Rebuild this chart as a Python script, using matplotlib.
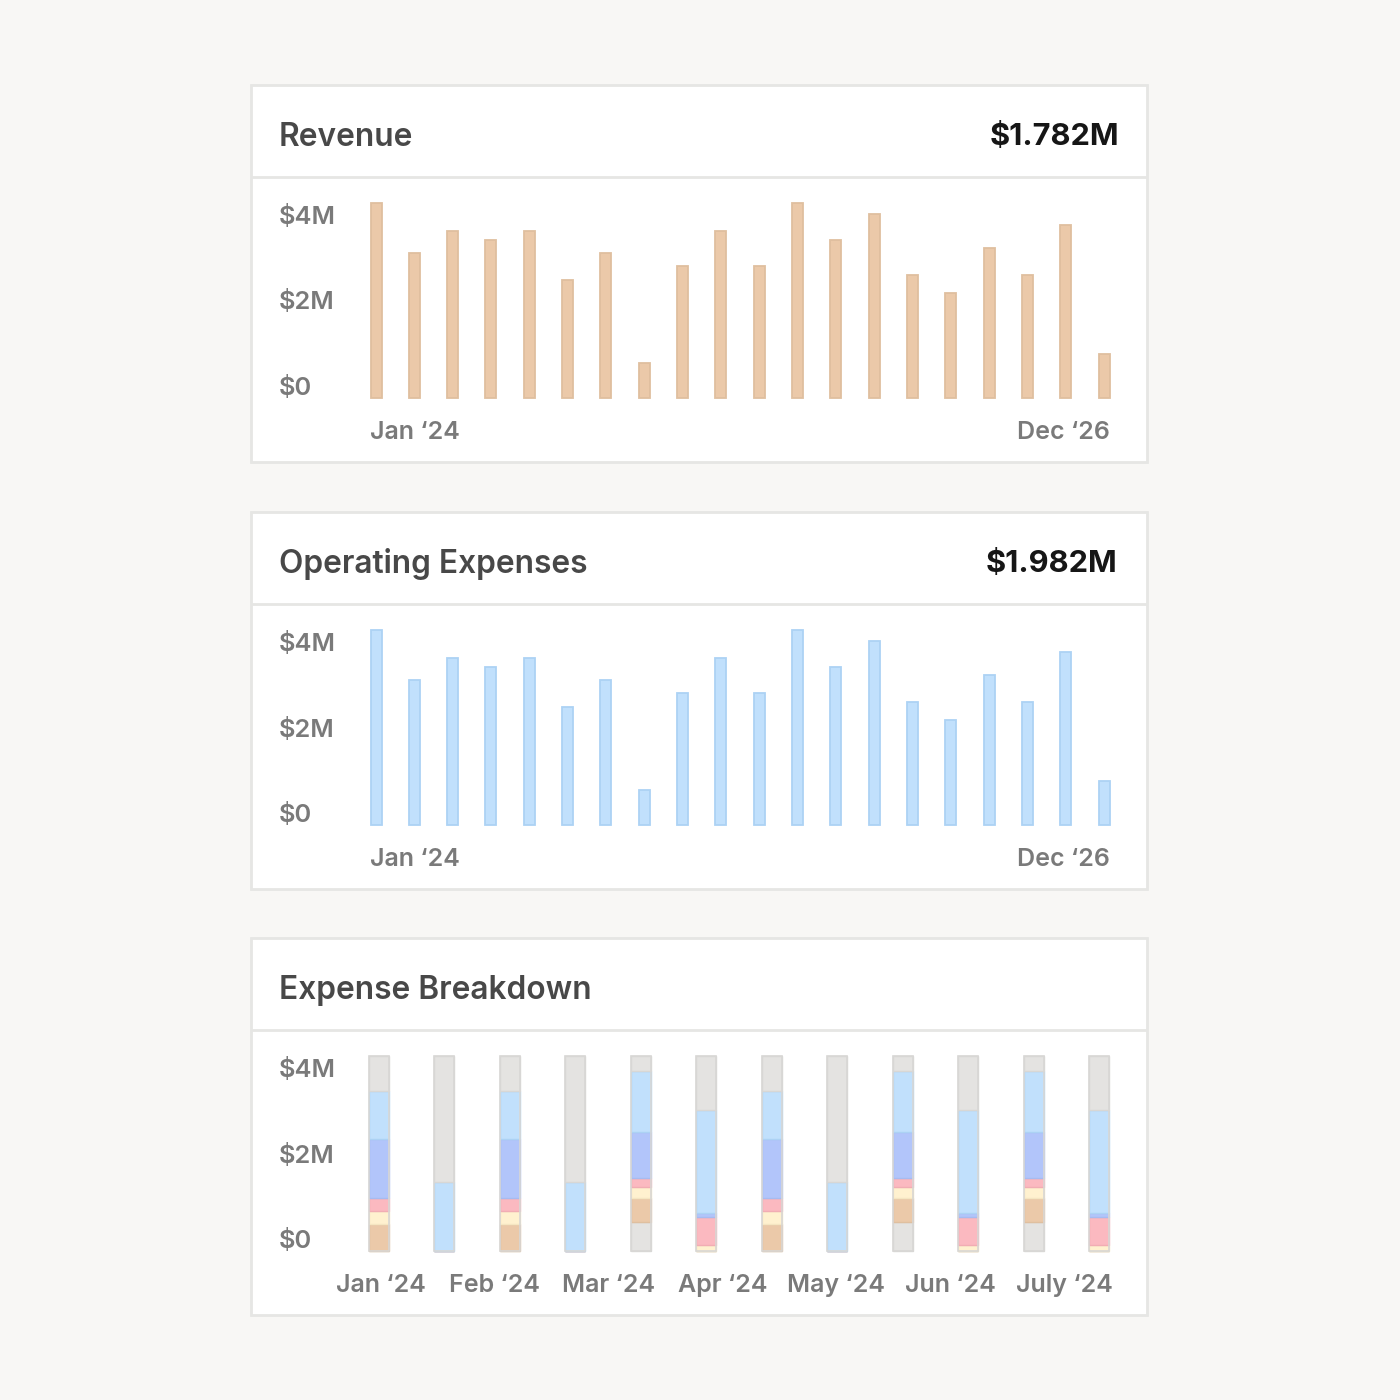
import matplotlib
matplotlib.use("Agg")
import matplotlib.pyplot as plt
from matplotlib.patches import Rectangle
from matplotlib.transforms import ScaledTranslation
import numpy as np

plt.rcParams['font.family'] = ['Inter', 'DejaVu Sans']

# ---------------- data ----------------
revenue_m = [4.00, 2.97, 3.43, 3.24, 3.43, 2.42, 2.97, 0.72, 2.71, 3.43,
             2.71, 4.00, 3.24, 3.77, 2.52, 2.15, 3.08, 2.52, 3.55, 0.90]
opex_m = [4.00, 2.97, 3.43, 3.24, 3.43, 2.42, 2.97, 0.72, 2.71, 3.43,
          2.71, 4.00, 3.24, 3.77, 2.52, 2.15, 3.08, 2.52, 3.55, 0.90]
trend_ticks = ["Jan \u201824", "Dec \u201826"]
y_tick_vals = [0, 2, 4]
y_tick_labels = ["$0", "$2M", "$4M"]

revenue_title = "Revenue"
revenue_total = "$1.782M"
opex_title = "Operating Expenses"
opex_total = "$1.982M"
breakdown_title = "Expense Breakdown"

months = ["Jan \u201824", "Feb \u201824", "Mar \u201824", "Apr \u201824",
          "May \u201824", "Jun \u201824", "July \u201824"]
# stacked expense series (millions), bottom -> top, one value per bar (12 bars)
other_low = [0, 0, 0, 0, 0.60, 0, 0, 0, 0.60, 0, 0.60, 0]
facilities = [0.55, 0, 0.55, 0, 0.49, 0, 0.55, 0, 0.49, 0, 0.49, 0]
software = [0.27, 0, 0.27, 0, 0.23, 0.12, 0.27, 0, 0.23, 0.12, 0.23, 0.12]
marketing = [0.27, 0, 0.27, 0, 0.18, 0.57, 0.27, 0, 0.18, 0.57, 0.18, 0.57]
contractors = [1.20, 0, 1.20, 0, 0.94, 0.09, 1.20, 0, 0.94, 0.09, 0.94, 0.09]
payroll = [0.99, 1.41, 0.99, 1.41, 1.26, 2.11, 0.99, 1.41, 1.26, 2.11, 1.26, 2.11]
other_high = [0.72, 2.59, 0.72, 2.59, 0.30, 1.11, 0.72, 2.59, 0.30, 1.11, 0.30, 1.11]

# ---------------- style ----------------
BG = "#f8f7f5"
CARD_EDGE = "#e6e6e4"
TITLE_C = "#484848"
VALUE_C = "#161616"
TICK_C = "#7a7a7a"
TAN = ("#ebc9a9", "#dfbf9f")
BLUE = ("#c1e0fc", "#acd2f4")
PERI = ("#b2c5fa", "#a7bbf0")
PINK = ("#fbb9c0", "#f1adb4")
CREAM = ("#fff1cf", "#f5e6c2")
GRAY = ("#e4e3e1", "#d8d7d5")

W = H = 1400
fig = plt.figure(figsize=(14, 14), dpi=100)
fig.patch.set_facecolor(BG)


def fx(px):
    return px / W


def fy(py):
    return 1 - py / H


def card(top, bottom, divider):
    fig.patches.append(Rectangle((fx(251), fy(bottom)), fx(1147 - 251), (bottom - top) / H,
                                 transform=fig.transFigure, facecolor="white",
                                 edgecolor=CARD_EDGE, linewidth=2, zorder=-10))
    fig.add_artist(plt.Line2D([fx(252), fx(1146)], [fy(divider), fy(divider)],
                              transform=fig.transFigure, color=CARD_EDGE, linewidth=2, zorder=-9))


def header(ycenter, title, value=None, vright=1119):
    fig.text(fx(279), fy(ycenter), title, fontsize=22.8, fontweight="semibold",
             color=TITLE_C, ha="left", va="center_baseline")
    if value:
        fig.text(fx(vright), fy(ycenter), value, fontsize=22.2, fontweight="bold",
                 color=VALUE_C, ha="right", va="center_baseline")


def make_axes(top_px, base_px, left_px, right_px, x0_px, step_px):
    ax = fig.add_axes([fx(left_px), fy(base_px), (right_px - left_px) / W, (base_px - top_px) / H])
    ax.patch.set_visible(False)
    for s in ax.spines.values():
        s.set_visible(False)
    ax.set_xlim((left_px - x0_px) / step_px, (right_px - x0_px) / step_px)
    ax.set_ylim(0, 4)
    ax.set_yticks(y_tick_vals)
    ax.set_yticklabels(y_tick_labels)
    ax.tick_params(axis="y", length=0, pad=(left_px - 279) * 0.72, labelsize=18.3,
                   labelcolor=TICK_C)
    down = ScaledTranslation(0, -2 / 100, fig.dpi_scale_trans)
    for t in ax.get_yticklabels():
        t.set_ha("left")
        t.set_fontweight("semibold")
        t.set_transform(t.get_transform() + down)
    labs = ax.get_yticklabels()
    labs[0].set_va("bottom")
    labs[1].set_va("center")
    labs[2].set_va("top")
    return ax


def trend_panel(top, values, color, title, total, total_right):
    card(top, top + 377, top + 92)
    header(top + 49, title, total, total_right)
    step = 38.32
    width = 11 / step
    ax = make_axes(top + 118, top + 313, 340, 1140, 376, step)
    x = np.arange(len(values))
    ax.bar(x, values, width=width, color=color[0], edgecolor=color[1], linewidth=1.3,
           clip_on=False)
    ax.set_xticks([x[0] - width / 2, x[-1] + width / 2])
    ax.set_xticklabels(trend_ticks)
    ax.tick_params(axis="x", length=0, pad=16.5, labelsize=18.0, labelcolor=TICK_C)
    xl = ax.get_xticklabels()
    xl[0].set_ha("left")
    xl[1].set_ha("right")
    for t in xl:
        t.set_fontweight("semibold")


trend_panel(85, revenue_m, TAN, revenue_title, revenue_total, 1119)
trend_panel(512, opex_m, BLUE, opex_title, opex_total, 1117)

# ---------- breakdown ----------
top = 938
card(top, top + 377, top + 92)
header(top + 49, breakdown_title)
step = 65.45
ax = make_axes(top + 118, top + 313, 340, 1140, 379, step)
series = [(other_low, GRAY), (facilities, TAN), (software, CREAM), (marketing, PINK),
          (contractors, PERI), (payroll, BLUE), (other_high, GRAY)]
x = np.arange(len(payroll))
bottom = np.zeros(len(x))
bw = 20 / step
for vals, col in series:
    v = np.array(vals, dtype=float)
    ax.bar(x, v, bottom=bottom, width=bw, color=col[0], edgecolor=col[1], linewidth=1.0,
           clip_on=False)
    bottom += v
# overall outline
ax.bar(x, bottom, width=bw, facecolor="none", edgecolor="#d8d7d5", linewidth=1.2, clip_on=False)
ax.set_xticks(np.linspace(0.03, 10.47, len(months)))
ax.set_xticklabels(months)
ax.tick_params(axis="x", length=0, pad=16.5, labelsize=18.0, labelcolor=TICK_C)
for t in ax.get_xticklabels():
    t.set_fontweight("semibold")

fig.savefig("out.png", dpi=100, facecolor=BG)
